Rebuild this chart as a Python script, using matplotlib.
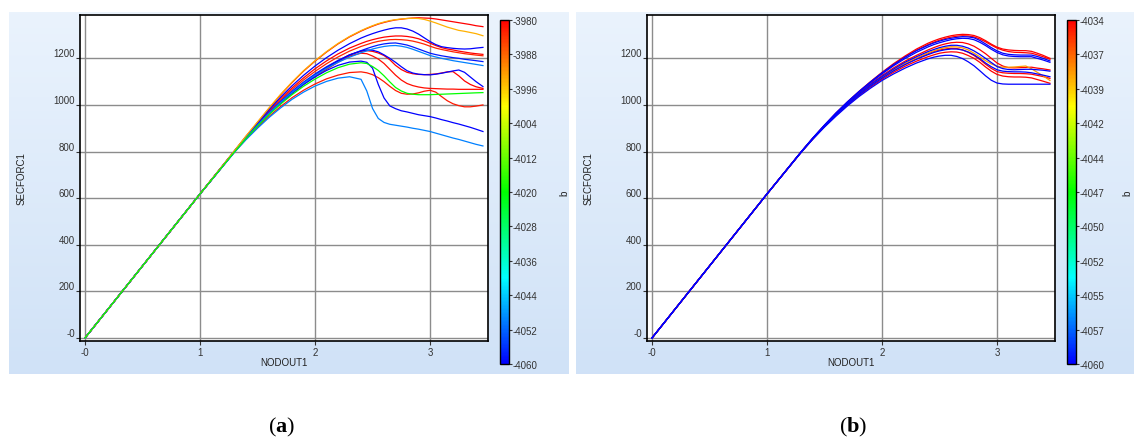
import numpy as np
import matplotlib
matplotlib.use("Agg")
import matplotlib.pyplot as plt
from matplotlib.colors import LinearSegmentedColormap, Normalize
from matplotlib.cm import ScalarMappable

plt.rcParams['font.family'] = ['Liberation Sans', 'DejaVu Sans']
plt.rcParams['axes.unicode_minus'] = False
plt.rcParams['mathtext.fontset'] = 'custom'
plt.rcParams['mathtext.rm'] = 'Liberation Serif'
plt.rcParams['mathtext.bf'] = 'Liberation Serif:bold'

# ---------------- data ----------------
X_RISE = [0.0, 1.0]
Y_RISE = [0, 618]
X_TAIL = [1.3, 1.4, 1.5, 1.6, 1.7, 1.8, 1.9, 2.0, 2.1, 2.2, 2.3, 2.4,
          2.45, 2.5, 2.55, 2.6, 2.65, 2.7, 2.75, 2.8, 2.85, 2.9, 2.95, 3.0,
          3.05, 3.1, 3.15, 3.2, 3.25, 3.3, 3.35, 3.4, 3.46]

# panel (a): b value of each run and its SECFORC1 tail
A_B = [-3980, -3980, -3983, -3981, -3980, -3982,
       -4060, -4058, -4060, -4060, -4050, -4050, -3994, -4020]
A_Y = [
    [803, 865, 925, 985, 1043, 1096, 1145, 1188, 1227, 1262, 1292, 1317,
     1328, 1338, 1347, 1354, 1360, 1365, 1368, 1371, 1373, 1374, 1373, 1372, 1369, 1365, 1361, 1357, 1353, 1349, 1345, 1340, 1336],
    [802, 862, 919, 974, 1026, 1073, 1116, 1155, 1189, 1219, 1244, 1264,
     1273, 1280, 1286, 1291, 1294, 1296, 1296, 1294, 1290, 1284, 1275, 1265, 1255, 1246, 1240, 1236, 1231, 1227, 1223, 1220, 1217],
    [801, 860, 916, 970, 1020, 1066, 1107, 1144, 1177, 1206, 1231, 1251,
     1259, 1267, 1273, 1277, 1280, 1281, 1280, 1278, 1274, 1268, 1261, 1252, 1244, 1238, 1233, 1228, 1224, 1220, 1217, 1214, 1211],
    [800, 858, 912, 962, 1008, 1050, 1088, 1122, 1153, 1183, 1210, 1222,
     1220, 1210, 1197, 1178, 1153, 1128, 1107, 1092, 1083, 1077, 1073, 1071, 1070, 1069, 1068, 1068, 1067, 1067, 1067, 1067, 1067],
    [801, 859, 914, 965, 1012, 1055, 1094, 1129, 1161, 1190, 1215, 1230,
     1233, 1230, 1223, 1212, 1194, 1170, 1152, 1140, 1134, 1131, 1130, 1131, 1133, 1137, 1142, 1143, 1125, 1103, 1088, 1078, 1071],
    [798, 853, 904, 951, 993, 1031, 1063, 1090, 1112, 1128, 1139, 1142,
     1138, 1130, 1117, 1100, 1080, 1062, 1050, 1046, 1047, 1052, 1059, 1063, 1055, 1036, 1018, 1005, 997, 992, 992, 995, 1000],
    [803, 864, 922, 979, 1033, 1082, 1127, 1167, 1203, 1235, 1263, 1287,
     1297, 1306, 1314, 1321, 1327, 1331, 1331, 1326, 1317, 1304, 1288, 1272, 1259, 1250, 1246, 1243, 1241, 1240, 1241, 1244, 1247],
    [801, 860, 915, 967, 1015, 1059, 1098, 1133, 1164, 1191, 1214, 1233,
     1242, 1250, 1257, 1262, 1265, 1266, 1262, 1257, 1249, 1240, 1231, 1222, 1216, 1211, 1207, 1203, 1200, 1196, 1193, 1190, 1186],
    [800, 858, 913, 964, 1010, 1052, 1090, 1128, 1160, 1188, 1215, 1232,
     1236, 1235, 1228, 1215, 1200, 1183, 1164, 1147, 1137, 1132, 1130, 1129, 1132, 1136, 1141, 1146, 1150, 1140, 1120, 1100, 1079],
    [800, 858, 912, 962, 1008, 1050, 1088, 1120, 1148, 1170, 1184, 1188,
     1183, 1158, 1088, 1030, 996, 984, 975, 970, 964, 958, 954, 950, 944, 937, 931, 924, 918, 911, 904, 896, 886],
    [800, 858, 913, 964, 1011, 1054, 1093, 1127, 1157, 1183, 1205, 1224,
     1232, 1240, 1246, 1251, 1254, 1255, 1252, 1247, 1239, 1230, 1221, 1212, 1206, 1200, 1195, 1190, 1186, 1182, 1178, 1174, 1169],
    [797, 851, 900, 946, 987, 1024, 1055, 1081, 1101, 1115, 1121, 1110,
     1060, 985, 942, 925, 917, 913, 909, 905, 900, 896, 891, 886, 879, 872, 865, 858, 852, 845, 838, 831, 824],
    [804, 867, 927, 987, 1045, 1098, 1147, 1190, 1229, 1264, 1294, 1319,
     1330, 1340, 1349, 1356, 1362, 1366, 1369, 1371, 1372, 1371, 1367, 1360, 1352, 1343, 1334, 1327, 1320, 1316, 1311, 1306, 1297],
    [799, 856, 909, 958, 1003, 1044, 1080, 1111, 1138, 1160, 1175, 1181,
     1178, 1165, 1148, 1125, 1099, 1075, 1060, 1050, 1046, 1044, 1044, 1044, 1045, 1046, 1047, 1048, 1049, 1050, 1051, 1052, 1053],
]

# panel (b)
B_B = [-4034, -4034, -4034, -4034, -4034, -4038,
       -4060, -4060, -4060, -4060, -4060]
B_Y = [
    [800, 858, 913, 965, 1013, 1058, 1100, 1140, 1177, 1210, 1240, 1265,
     1275, 1284, 1291, 1297, 1301, 1303, 1302, 1298, 1289, 1276, 1261, 1248, 1240, 1236, 1234, 1233, 1233, 1230, 1222, 1213, 1200],
    [800, 858, 912, 964, 1012, 1056, 1098, 1137, 1173, 1206, 1235, 1259,
     1269, 1278, 1285, 1291, 1295, 1297, 1296, 1292, 1283, 1271, 1257, 1244, 1235, 1229, 1226, 1225, 1224, 1222, 1215, 1207, 1196],
    [800, 857, 911, 961, 1008, 1051, 1090, 1126, 1159, 1188, 1213, 1236,
     1246, 1255, 1262, 1267, 1269, 1268, 1262, 1252, 1237, 1220, 1200, 1180, 1167, 1160, 1159, 1160, 1161, 1162, 1158, 1155, 1150],
    [800, 856, 909, 958, 1003, 1045, 1083, 1117, 1148, 1175, 1199, 1220,
     1229, 1236, 1240, 1243, 1242, 1236, 1226, 1212, 1195, 1175, 1157, 1143, 1138, 1136, 1135, 1135, 1134, 1132, 1127, 1122, 1114],
    [799, 855, 907, 955, 999, 1040, 1077, 1110, 1140, 1166, 1188, 1207,
     1215, 1222, 1226, 1228, 1227, 1222, 1212, 1200, 1183, 1163, 1145, 1131, 1124, 1121, 1120, 1120, 1119, 1116, 1109, 1102, 1093],
    [800, 856, 909, 958, 1004, 1046, 1084, 1119, 1150, 1178, 1202, 1223,
     1232, 1240, 1246, 1250, 1249, 1245, 1236, 1222, 1207, 1190, 1176, 1166, 1162, 1162, 1163, 1165, 1167, 1155, 1140, 1125, 1105],
    [801, 859, 914, 966, 1014, 1058, 1099, 1138, 1173, 1205, 1233, 1256,
     1266, 1274, 1281, 1286, 1290, 1293, 1292, 1288, 1277, 1262, 1246, 1232, 1222, 1217, 1215, 1214, 1214, 1214, 1208, 1200, 1189],
    [801, 859, 913, 964, 1011, 1055, 1095, 1133, 1168, 1199, 1226, 1249,
     1259, 1267, 1274, 1280, 1284, 1286, 1285, 1280, 1269, 1255, 1239, 1225, 1215, 1210, 1208, 1207, 1207, 1207, 1200, 1193, 1183],
    [800, 857, 910, 960, 1006, 1048, 1087, 1122, 1154, 1183, 1207, 1229,
     1238, 1246, 1252, 1256, 1256, 1252, 1244, 1232, 1217, 1200, 1182, 1165, 1156, 1152, 1151, 1152, 1153, 1153, 1151, 1149, 1145],
    [799, 855, 908, 957, 1002, 1043, 1081, 1115, 1146, 1173, 1196, 1216,
     1225, 1232, 1237, 1240, 1240, 1236, 1227, 1215, 1199, 1180, 1164, 1151, 1145, 1143, 1142, 1142, 1141, 1138, 1133, 1128, 1121],
    [798, 854, 905, 952, 996, 1036, 1072, 1105, 1133, 1158, 1180, 1198,
     1205, 1210, 1213, 1213, 1208, 1199, 1185, 1168, 1147, 1125, 1106, 1094, 1090, 1089, 1089, 1089, 1089, 1089, 1089, 1089, 1089],
]

X_TICKS = [0, 1, 2, 3]
X_TICKLABELS = ["-0", "1", "2", "3"]
Y_TICKS = [0, 200, 400, 600, 800, 1000, 1200]
Y_TICKLABELS = ["-0", "200", "400", "600", "800", "1000", "1200"]

A_CRANGE = (-4060, -3980)
A_CTICKS = [-4060, -4052, -4044, -4036, -4028, -4020, -4012, -4004, -3996, -3988, -3980]
A_CLABELS = ["-4060", "-4052", "-4044", "-4036", "-4028", "-4020", "-4012", "-4004", "-3996", "-3988", "-3980"]
B_CRANGE = (-4060, -4034)
B_CTICKS = [-4060.0, -4057.4, -4054.8, -4052.2, -4049.6, -4047.0, -4044.4, -4041.8, -4039.2, -4036.6, -4034.0]
B_CLABELS = ["-4060", "-4057", "-4055", "-4052", "-4050", "-4047", "-4044", "-4042", "-4039", "-4037", "-4034"]

# ---------------- figure ----------------
W, H = 1134, 439
fig = plt.figure(figsize=(W / 100, H / 100), dpi=100)
fig.patch.set_facecolor('white')

cmap = LinearSegmentedColormap.from_list(
    'hue', ['#0000ff', '#00ffff', '#00ff00', '#ffff00', '#ff0000'])

TXT = '#333333'


def fx(px):
    return px / W


def fy(py):
    return 1 - py / H


def panel(x0, ys, bs, crange, cticks, clabels, caption, cap_x, blab_x):
    # gradient background
    bg = fig.add_axes([fx(x0), fy(375), fx(560), 362 / H], zorder=0)
    top = np.array([0.918, 0.953, 0.992])
    bot = np.array([0.816, 0.886, 0.969])
    t = np.linspace(0, 1, 200)[:, None, None]
    grad = top * (1 - t) + bot * t
    grad = np.repeat(grad, 2, axis=1)
    bg.imshow(grad, aspect='auto', extent=[0, 1, 0, 1])
    bg.set_axis_off()

    ax = fig.add_axes([fx(x0 + 71), fy(342), fx(408), 326 / H], zorder=2)
    ax.set_facecolor('white')
    norm = Normalize(vmin=crange[0], vmax=crange[1])
    xs = X_RISE + X_TAIL
    for yv, b in zip(ys, bs):
        yy = Y_RISE + yv
        ax.plot(xs, yy, color=cmap(norm(b)), lw=0.9, solid_joinstyle='round')
    ax.set_xlim(-0.0435, 3.504)
    ax.set_ylim(-13, 1386)
    ax.set_xticks(X_TICKS)
    ax.set_xticklabels(X_TICKLABELS)
    ax.set_yticks(Y_TICKS)
    ax.set_yticklabels(Y_TICKLABELS)
    for lab in ax.get_yticklabels():
        lab.set_va('bottom')
    ax.tick_params(axis='both', direction='out', length=3, width=0.8,
                   color='#333333', labelsize=7, labelcolor=TXT)
    ax.tick_params(axis='y', pad=0.5)
    ax.tick_params(axis='x', pad=1.5)
    ax.grid(True, color='#8c8c8c', lw=1.0)
    ax.set_axisbelow(True)
    for s in ax.spines.values():
        s.set_color('black')
        s.set_linewidth(1.2)

    fig.text(fx(x0 + 13), fy(179), 'SECFORC1', rotation=90, ha='center',
             va='center', fontsize=7, color='#222222', zorder=5)
    fig.text(fx(x0 + 275), fy(363), 'NODOUT1', ha='center', va='center',
             fontsize=7, color='#222222', zorder=5)

    cax = fig.add_axes([fx(x0 + 491), fy(365), fx(9), 344 / H], zorder=2)
    cb = fig.colorbar(ScalarMappable(norm=norm, cmap=cmap), cax=cax)
    cb.set_ticks(cticks)
    cb.set_ticklabels(clabels)
    cb.outline.set_linewidth(1.0)
    cb.outline.set_edgecolor('black')
    cax.tick_params(length=2, width=0.8, pad=0.5, labelsize=7,
                    labelcolor=TXT, color='#333333')
    fig.text(fx(blab_x), fy(193), 'b', rotation=90, ha='center',
             va='center', fontsize=7, color='#222222', zorder=5)

    fig.text(fx(cap_x), fy(427), caption, ha='center', va='center',
             fontsize=16, family='Liberation Serif', color='black')


panel(9, A_Y, A_B, A_CRANGE, A_CTICKS, A_CLABELS, r'($\mathbf{a}$)', 282, 564)
panel(576, B_Y, B_B, B_CRANGE, B_CTICKS, B_CLABELS, r'($\mathbf{b}$)', 853, 1127)

fig.savefig('out.png', dpi=100)
